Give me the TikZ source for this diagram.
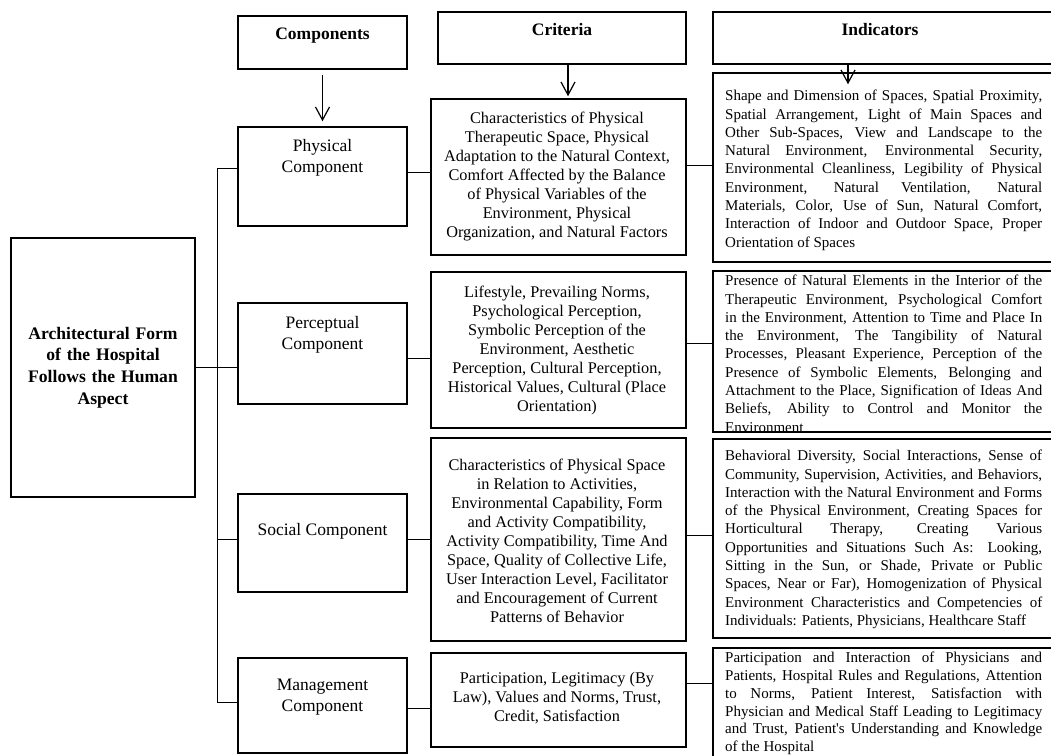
\documentclass[tikz,border=0pt]{standalone}
\usepackage{fontspec}
\setmainfont{Liberation Serif}[Ligatures=TeXOff]
\usetikzlibrary{arrows.meta}

\begin{document}
\begin{tikzpicture}[x=1pt, y=-1pt,
    box/.style={draw, line width=1.5pt, inner sep=0pt},
    hdr/.style={font=\fontsize{17.5}{21}\selectfont\bfseries, inner sep=0pt, anchor=north},
    comp/.style={font=\fontsize{17.5}{21}\selectfont, align=center, inner sep=0pt, anchor=north},
    crit/.style={font=\fontsize{16.3}{19}\selectfont, align=center, inner sep=0pt, anchor=north},
    ind/.style={font=\fontsize{15}{18.3}\selectfont, text width=317pt, align=justify,
      inner sep=0pt, anchor=north west},
    link/.style={line width=1pt},
    arr/.style={line width=1.2pt, -{Straight Barb[length=13pt,width=14pt]}}
  ]
    \useasboundingbox (0,0) rectangle (1051,755);
    \clip (0,0) rectangle (1051,755);

    % Headers
    \node[box, minimum width=169pt, minimum height=53pt] (hc) at (322.5,42.5) {};
    \node[hdr] (hc-t) at (322.5,28) {Components};
    \node[box, minimum width=248pt, minimum height=52pt] (hr) at (562,38) {};
    \node[hdr] (hr-t) at (562,23) {Criteria};
    \node[box, minimum width=343pt, minimum height=52pt] (hi) at (884.5,38) {};
    \node[hdr] (hi-t) at (880,23) {Indicators};

    % Main box
    \node[box, minimum width=184pt, minimum height=259pt, text width=170pt, align=center,
      font=\fontsize{17.6}{21.7}\selectfont\bfseries] (main) at (103,367.5)
      {Architectural Form\\ of the Hospital\\ Follows the Human\\ Aspect};

    % Components
    \node[box, minimum width=169pt, minimum height=99pt] (pc) at (322.5,176.5) {};
    \node[comp] (pc-t) at (322.5,139) {Physical\\ Component};
    \node[box, minimum width=169pt, minimum height=101pt] (pp) at (322.5,353.5) {};
    \node[comp] (pp-t) at (322.5,316) {Perceptual\\ Component};
    \node[box, minimum width=169pt, minimum height=98pt] (ps) at (322.5,543) {};
    \node[comp] (ps-t) at (322.5,523) {Social Component};
    \node[box, minimum width=169pt, minimum height=95pt] (pm) at (322.5,705.5) {};
    \node[comp] (pm-t) at (322.5,679) {Management\\ Component};

    % Criteria
    \node[box, minimum width=255pt, minimum height=156pt] (cp) at (558.5,177) {};
    \node[crit] (cp-t) at (557,112) {Characteristics of Physical\\ Therapeutic Space, Physical\\
      Adaptation to the Natural Context,\\ Comfort Affected by the Balance\\
      of Physical Variables of the\\ Environment, Physical\\ Organization, and Natural Factors};
    \node[box, minimum width=255pt, minimum height=156pt] (cpe) at (558.5,350) {};
    \node[crit] (cpe-t) at (557,286) {Lifestyle, Prevailing Norms,\\ Psychological Perception,\\
      Symbolic Perception of the\\ Environment, Aesthetic\\ Perception, Cultural Perception,\\
      Historical Values, Cultural (Place\\ Orientation)};
    \node[box, minimum width=255pt, minimum height=203pt] (cs) at (558.5,539.5) {};
    \node[crit] (cs-t) at (557,459) {Characteristics of Physical Space\\ in Relation to Activities,\\
      Environmental Capability, Form\\ and Activity Compatibility,\\
      Activity Compatibility, Time And\\ Space, Quality of Collective Life,\\
      User Interaction Level, Facilitator\\ and Encouragement of Current\\ Patterns of Behavior};
    \node[box, minimum width=255pt, minimum height=94pt] (cm) at (558.5,700) {};
    \node[crit] (cm-t) at (557,672) {Participation, Legitimacy (By\\ Law), Values and Norms, Trust,\\
      Credit, Satisfaction};

    % Indicators
    \node[box, minimum width=343pt, minimum height=189pt] (ip) at (884.5,167.5) {};
    \node[ind] (ip-t) at (725,90) {Shape and Dimension of Spaces, Spatial Proximity,\linebreak
      Spatial Arrangement, Light of Main Spaces and\linebreak
      Other Sub-Spaces, View and Landscape to the\linebreak
      Natural Environment, Environmental Security,\linebreak
      Environmental Cleanliness, Legibility of Physical\linebreak
      Environment, Natural Ventilation, Natural\linebreak
      Materials, Color, Use of Sun, Natural Comfort,\linebreak
      Interaction of Indoor and Outdoor Space, Proper\linebreak
      Orientation of Spaces};
    \node[box, minimum width=343pt, minimum height=161pt] (ipe) at (884.5,351.5) {};
    \node[ind] (ipe-t) at (725,275) {Presence of Natural Elements in the Interior of the\linebreak
      Therapeutic Environment, Psychological Comfort\linebreak
      in the Environment, Attention to Time and Place In\linebreak
      the Environment, The Tangibility of Natural\linebreak
      Processes, Pleasant Experience, Perception of the\linebreak
      Presence of Symbolic Elements, Belonging and\linebreak
      Attachment to the Place, Signification of Ideas And\linebreak
      Beliefs, Ability to Control and Monitor the\linebreak
      Environment};
    \node[box, minimum width=343pt, minimum height=199pt] (is) at (884.5,538.5) {};
    \node[ind] (is-t) at (725,450) {Behavioral Diversity, Social Interactions, Sense of\linebreak
      Community, Supervision, Activities, and Behaviors,\linebreak
      Interaction with the Natural Environment and Forms\linebreak
      of the Physical Environment, Creating Spaces for\linebreak
      Horticultural Therapy, Creating Various\linebreak
      Opportunities and Situations Such As: Looking,\linebreak
      Sitting in the Sun, or Shade, Private or Public\linebreak
      Spaces, Near or Far), Homogenization of Physical\linebreak
      Environment Characteristics and Competencies of\linebreak
      Individuals: Patients, Physicians, Healthcare Staff};
    \node[box, minimum width=343pt, minimum height=127pt] (im) at (884.5,711.5) {};
    \node[ind, font=\fontsize{15}{17.8}\selectfont] (im-t) at (725,652)
      {Participation and Interaction of Physicians and\linebreak
      Patients, Hospital Rules and Regulations, Attention\linebreak
      to Norms, Patient Interest, Satisfaction with\linebreak
      Physician and Medical Staff Leading to Legitimacy\linebreak
      and Trust, Patient's Understanding and Knowledge\linebreak
      of the Hospital};

    % Header arrows
    \draw[arr, shorten <=5pt, shorten >=5pt] (hc.south) -- (pc.north);
    \coordinate (ra) at ([xshift=6pt]hr.south);
    \draw[arr, shorten >=2pt] (ra) -- (ra |- cp.north);
    \coordinate (ia) at ([xshift=-36.5pt]hi.south);
    \coordinate (ib) at ([xshift=-36.5pt,yshift=-12pt]ip.north);
    \draw[arr] (ia) -- (ib);

    % Tree on the left
    \coordinate (t1) at (217,168);
    \coordinate (t3) at (217,539);
    \coordinate (t4) at (217,702);
    \draw[link] (main.east) -- (main.east -| pp.west);
    \draw[link] (t1) -- (t4);
    \draw[link] (t1) -- (t1 -| pc.west);
    \draw[link] (t3) -- (t3 -| ps.west);
    \draw[link] (t4) -- (t4 -| pm.west);

    % Components to criteria
    \coordinate (k1) at ([yshift=4.5pt]pc.east);
    \coordinate (k2) at ([yshift=-4.5pt]pp.east);
    \coordinate (k3) at ([yshift=4pt]ps.east);
    \coordinate (k4) at ([yshift=-2.5pt]pm.east);
    \draw[link] (k1) -- (k1 -| cp.west);
    \draw[link] (k2) -- (k2 -| cpe.west);
    \draw[link] (k3) -- (k3 -| cs.west);
    \draw[link] (k4) -- (k4 -| cm.west);

    % Criteria to indicators
    \coordinate (m1) at ([yshift=12pt]cp.east);
    \coordinate (m2) at ([yshift=7pt]cpe.east);
    \coordinate (m3) at ([yshift=4.5pt]cs.east);
    \coordinate (m4) at ([yshift=17pt]cm.east);
    \draw[link] (m1) -- (m1 -| ip.west);
    \draw[link] (m2) -- (m2 -| ipe.west);
    \draw[link] (m3) -- (m3 -| is.west);
    \draw[link] (m4) -- (m4 -| im.west);
  \end{tikzpicture}
\end{document}
